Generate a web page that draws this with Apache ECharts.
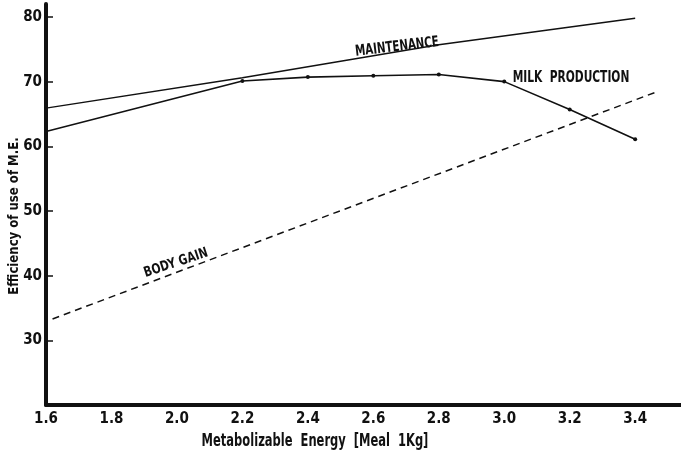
<!DOCTYPE html>
<html>
<head>
<meta charset="utf-8">
<script src="https://cdn.jsdelivr.net/npm/echarts@6/dist/echarts.min.js"></script>
<style>
  html, body { margin: 0; padding: 0; background: #fff; }
  #chart { width: 681px; height: 456px; }
</style>
</head>
<body>
<div id="chart"></div>
<script>
// values
var xTicks = [1.6, 1.8, 2.0, 2.2, 2.4, 2.6, 2.8, 3.0, 3.2, 3.4]
var yTicks = [30, 40, 50, 60, 70, 80]

var milkX = [1.6, 2.2, 2.4, 2.6, 2.8, 3.0, 3.2, 3.4]
var milkY = [62.3, 70.1, 70.7, 70.9, 71.1, 70.0, 65.7, 61.1]

var maintX = [1.6, 2.2, 2.8, 3.4]
var maintY = [65.9, 70.6, 75.7, 79.8]

var gainX = [1.62, 3.47]
var gainY = [33.3, 68.5]

var FONT = "'Liberation Sans Narrow', 'DejaVu Sans Condensed', 'Roboto', sans-serif"
var INK = '#111'

function pairs (xs, ys) {
  return xs.map(function (x, i) { return [x, ys[i]] })
}

var milkData = pairs(milkX, milkY)
// the curve starts at the axis without a dot
milkData[0] = { value: milkData[0], symbol: 'none' }

// condensed bold label, squeezed sideways to look like the printed type
function label (text, x, y, size, squeeze, rotation) {
  return {
    type: 'text',
    x: x,
    y: y,
    rotation: rotation || 0,
    scaleX: squeeze,
    style: {
      text: text,
      fill: INK,
      font: 'bold ' + size + 'px ' + FONT,
      textAlign: 'center',
      textVerticalAlign: 'middle'
    }
  }
}

var chart = echarts.init(document.getElementById('chart'))

chart.setOption({
  backgroundColor: '#fff',
  animation: false,
  grid: {
    left: 46,
    right: 0,
    top: 4,
    bottom: 51
  },
  xAxis: {
    type: 'value',
    min: 1.6,
    max: 3.54,
    interval: 0.2,
    axisLine: { lineStyle: { color: INK, width: 4 } },
    axisTick: { show: false },
    splitLine: { show: false },
    axisLabel: {
      customValues: xTicks,
      formatter: function (v) { return v.toFixed(1) },
      color: INK,
      fontFamily: FONT,
      fontWeight: 'bold',
      fontSize: 15,
      margin: 7
    }
  },
  yAxis: {
    type: 'value',
    min: 20,
    max: 82,
    interval: 10,
    axisLine: { show: true, lineStyle: { color: INK, width: 4 } },
    axisTick: {
      show: true,
      inside: true,
      length: 7,
      customValues: yTicks,
      lineStyle: { color: INK, width: 1.5 }
    },
    splitLine: { show: false },
    axisLabel: {
      customValues: yTicks,
      color: INK,
      fontFamily: FONT,
      fontWeight: 'bold',
      fontSize: 15,
      margin: 4
    }
  },
  series: [
    {
      name: 'Maintenance',
      type: 'line',
      data: pairs(maintX, maintY),
      symbol: 'none',
      lineStyle: { color: INK, width: 1.4 }
    },
    {
      name: 'Milk production',
      type: 'line',
      data: milkData,
      symbol: 'circle',
      symbolSize: 4,
      itemStyle: { color: INK },
      lineStyle: { color: INK, width: 1.6 }
    },
    {
      name: 'Body gain',
      type: 'line',
      data: pairs(gainX, gainY),
      symbol: 'none',
      lineStyle: { color: INK, width: 1.5, type: [7, 5] }
    }
  ],
  graphic: [
    label('Efficiency of use of M.E.', 14, 216, 14, 0.93, Math.PI / 2),
    label('Metabolizable  Energy  [Meal  1Kg]', 315, 441, 18, 0.71),
    label('MAINTENANCE', 397, 47, 15, 0.76, 0.117),
    label('MILK  PRODUCTION', 571, 78, 15, 0.79),
    label('BODY GAIN', 176, 263, 14, 0.85, 0.32)
  ]
})
</script>
</body>
</html>
